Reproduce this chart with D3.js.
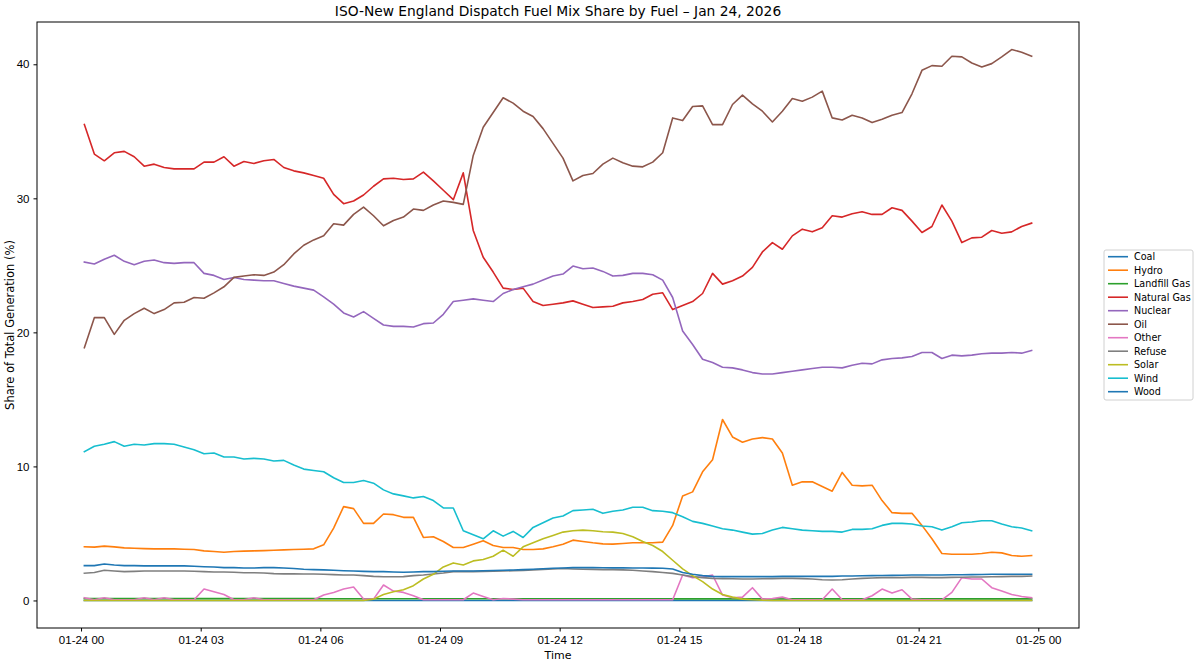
<!DOCTYPE html>
<html>
<head>
<meta charset="utf-8">
<script src="https://cdn.jsdelivr.net/npm/d3@7"></script>
<style>
  body { margin: 0; background: #fff; }
  svg { font-family: "DejaVu Sans", sans-serif; }
</style>
</head>
<body>
<svg id="fuelmix" width="1200" height="663"></svg>
<script>
// Fuel names, in plotting / legend order
const fuels = ["Coal", "Hydro", "Landfill Gas", "Natural Gas", "Nuclear", "Oil",
               "Other", "Refuse", "Solar", "Wind", "Wood"];

// samples every 15 minutes, first one at 00:05 on Jan 24
const startTime = Date.UTC(2026, 0, 24, 0, 5);
const stepMinutes = 15;

// share of total generation (%)
const coal = [
  0, 0, 0, 0, 0, 0, 0, 0, 0, 0, 0, 0,
  0, 0, 0, 0, 0, 0, 0, 0, 0, 0, 0, 0,
  0, 0, 0, 0, 0, 0, 0, 0, 0, 0, 0, 0,
  0, 0, 0, 0, 0, 0, 0, 0, 0, 0, 0, 0,
  0, 0, 0, 0, 0, 0, 0, 0, 0, 0, 0, 0,
  0, 0, 0, 0, 0, 0, 0, 0, 0, 0, 0, 0,
  0, 0, 0, 0, 0, 0, 0, 0, 0, 0, 0, 0,
  0, 0, 0, 0, 0, 0, 0, 0, 0, 0, 0, 0
];
const hydro = [
  4.0, 3.98, 4.05, 4.0, 3.92, 3.9, 3.87, 3.85, 3.85, 3.85, 3.82, 3.8,
  3.7, 3.65, 3.6, 3.65, 3.68, 3.7, 3.72, 3.75, 3.77, 3.8, 3.82, 3.85,
  4.15, 5.4, 7.0, 6.85, 5.75, 5.75, 6.45, 6.4, 6.2, 6.2, 4.7, 4.75,
  4.4, 3.95, 3.95, 4.2, 4.45, 4.1, 3.95, 3.95, 3.8, 3.8, 3.85, 4.0,
  4.2, 4.5, 4.4, 4.3, 4.22, 4.2, 4.25, 4.3, 4.3, 4.3, 4.35, 5.6,
  7.8, 8.1, 9.6, 10.5, 13.5, 12.2, 11.8, 12.05, 12.15, 12.05, 11.0, 8.6,
  8.85, 8.85, 8.5, 8.15, 9.55, 8.6, 8.55, 8.6, 7.45, 6.55, 6.5, 6.5,
  5.6, 4.6, 3.5, 3.45, 3.45, 3.45, 3.5, 3.6, 3.55, 3.35, 3.3, 3.35
];
const landfillGas = [
  0.14, 0.14, 0.14, 0.14, 0.14, 0.14, 0.14, 0.14, 0.14, 0.14, 0.14, 0.14,
  0.14, 0.14, 0.14, 0.14, 0.14, 0.14, 0.14, 0.14, 0.14, 0.14, 0.14, 0.14,
  0.13, 0.13, 0.13, 0.13, 0.13, 0.13, 0.13, 0.13, 0.13, 0.13, 0.13, 0.13,
  0.13, 0.13, 0.13, 0.13, 0.13, 0.13, 0.13, 0.13, 0.13, 0.13, 0.13, 0.13,
  0.12, 0.12, 0.12, 0.12, 0.12, 0.12, 0.12, 0.12, 0.12, 0.12, 0.12, 0.12,
  0.12, 0.12, 0.12, 0.12, 0.12, 0.12, 0.12, 0.12, 0.12, 0.12, 0.12, 0.12,
  0.12, 0.12, 0.12, 0.12, 0.12, 0.12, 0.12, 0.12, 0.12, 0.12, 0.12, 0.12,
  0.12, 0.12, 0.12, 0.12, 0.12, 0.12, 0.12, 0.12, 0.12, 0.12, 0.12, 0.12
];
const naturalGas = [
  35.5, 33.3, 32.8, 33.4, 33.5, 33.1, 32.4, 32.55, 32.3, 32.2, 32.2, 32.2,
  32.7, 32.7, 33.1, 32.4, 32.75, 32.6, 32.8, 32.9, 32.3, 32.05, 31.9, 31.7,
  31.5, 30.3, 29.6, 29.8, 30.25, 30.9, 31.45, 31.5, 31.4, 31.45, 31.95, 31.3,
  30.6, 29.9, 31.9, 27.6, 25.6, 24.5, 23.3, 23.2, 23.3, 22.3, 22.0, 22.1,
  22.2, 22.35, 22.1, 21.85, 21.9, 21.95, 22.2, 22.3, 22.45, 22.85, 22.95, 21.7,
  22.0, 22.3, 22.9, 24.4, 23.6, 23.85, 24.2, 24.85, 26.0, 26.7, 26.2, 27.2,
  27.7, 27.5, 27.8, 28.7, 28.6, 28.85, 29.0, 28.8, 28.8, 29.3, 29.1, 28.3,
  27.45, 27.9, 29.5, 28.3, 26.7, 27.05, 27.1, 27.6, 27.4, 27.5, 27.9, 28.15
];
const nuclear = [
  25.25, 25.1, 25.45, 25.75, 25.3, 25.05, 25.3, 25.4, 25.2, 25.15, 25.2, 25.2,
  24.4, 24.25, 23.95, 24.1, 23.95, 23.9, 23.85, 23.85, 23.65, 23.45, 23.3, 23.15,
  22.65, 22.1, 21.45, 21.15, 21.55, 21.05, 20.55, 20.45, 20.45, 20.4, 20.65, 20.7,
  21.35, 22.3, 22.4, 22.5, 22.4, 22.3, 22.9, 23.2, 23.4, 23.6, 23.9, 24.2,
  24.35, 24.95, 24.75, 24.8, 24.55, 24.2, 24.25, 24.4, 24.4, 24.3, 23.9, 22.6,
  20.1, 19.1, 18.0, 17.75, 17.4, 17.35, 17.2, 17.0, 16.9, 16.9, 17.0, 17.1,
  17.2, 17.3, 17.4, 17.4, 17.35, 17.55, 17.7, 17.65, 17.95, 18.05, 18.1, 18.2,
  18.5, 18.5, 18.05, 18.3, 18.25, 18.3, 18.4, 18.45, 18.45, 18.5, 18.45, 18.65
];
const oil = [
  18.85, 21.1, 21.1, 19.85, 20.9, 21.4, 21.8, 21.4, 21.7, 22.2, 22.25, 22.6,
  22.55, 22.95, 23.4, 24.1, 24.2, 24.3, 24.25, 24.5, 25.05, 25.85, 26.5, 26.9,
  27.2, 28.1, 28.0, 28.8, 29.35, 28.7, 27.95, 28.35, 28.6, 29.2, 29.1, 29.5,
  29.8, 29.7, 29.55, 33.2, 35.3, 36.4, 37.5, 37.1, 36.5, 36.1, 35.2, 34.1,
  33.0, 31.3, 31.7, 31.85, 32.55, 33.0, 32.65, 32.4, 32.35, 32.7, 33.4, 36.0,
  35.8, 36.85, 36.9, 35.5, 35.5, 37.0, 37.7, 37.05, 36.5, 35.7, 36.5, 37.45,
  37.25, 37.55, 38.0, 36.0, 35.85, 36.2, 36.0, 35.65, 35.9, 36.2, 36.4, 37.8,
  39.55, 39.9, 39.85, 40.6, 40.55, 40.1, 39.8, 40.05, 40.55, 41.1, 40.9, 40.6
];
const other = [
  0.2, 0.05, 0.2, 0.05, 0.05, 0.05, 0.2, 0.05, 0.2, 0.05, 0.05, 0.05,
  0.85, 0.65, 0.45, 0.05, 0.05, 0.2, 0.05, 0.05, 0.05, 0.05, 0.05, 0.05,
  0.4, 0.6, 0.85, 1.0, 0.1, 0.1, 1.15, 0.7, 0.6, 0.35, 0.05, 0.05,
  0.05, 0.05, 0.05, 0.55, 0.3, 0.05, 0.15, 0.1, 0.05, 0.05, 0.05, 0.05,
  0.05, 0.05, 0.05, 0.05, 0.05, 0.05, 0.05, 0.05, 0.05, 0.05, 0.05, 0.05,
  1.9, 1.7, 1.75, 1.9, 0.4, 0.2, 0.25, 0.95, 0.1, 0.15, 0.25, 0.05,
  0.05, 0.05, 0.05, 0.85, 0.05, 0.05, 0.05, 0.35, 0.85, 0.55, 0.8, 0.1,
  0.05, 0.05, 0.05, 0.6, 1.7, 1.6, 1.6, 0.95, 0.7, 0.45, 0.3, 0.2
];
const refuse = [
  2.03, 2.08, 2.25, 2.2, 2.15, 2.17, 2.2, 2.2, 2.2, 2.2, 2.2, 2.18,
  2.15, 2.12, 2.12, 2.1, 2.07, 2.07, 2.05, 2.0, 1.98, 1.98, 1.97, 1.97,
  1.96, 1.93, 1.9, 1.9, 1.85, 1.8, 1.77, 1.77, 1.78, 1.85, 1.9, 1.97,
  2.05, 2.15, 2.15, 2.15, 2.17, 2.18, 2.2, 2.22, 2.24, 2.28, 2.32, 2.35,
  2.38, 2.35, 2.33, 2.32, 2.3, 2.3, 2.28, 2.25, 2.2, 2.15, 2.08, 2.02,
  1.9, 1.78, 1.7, 1.65, 1.63, 1.62, 1.6, 1.6, 1.62, 1.63, 1.65, 1.65,
  1.63, 1.6, 1.55, 1.53, 1.55, 1.6, 1.65, 1.68, 1.7, 1.7, 1.7, 1.72,
  1.72, 1.7, 1.7, 1.72, 1.73, 1.75, 1.75, 1.77, 1.78, 1.8, 1.8, 1.82
];
const solar = [
  0, 0, 0, 0, 0, 0, 0, 0, 0, 0, 0, 0,
  0, 0, 0, 0, 0, 0, 0, 0, 0, 0, 0, 0,
  0, 0, 0, 0, 0, 0.1, 0.45, 0.65, 0.8, 1.1, 1.6, 1.95,
  2.5, 2.8, 2.65, 2.95, 3.05, 3.3, 3.75, 3.3, 4.0, 4.3, 4.6, 4.85,
  5.1, 5.2, 5.25, 5.2, 5.12, 5.1, 5.0, 4.75, 4.4, 4.1, 3.65, 3.0,
  2.35, 1.85, 1.4, 0.85, 0.45, 0.25, 0.1, 0.05, 0.02, 0, 0, 0,
  0, 0, 0, 0, 0, 0, 0, 0, 0, 0, 0, 0,
  0, 0, 0, 0, 0, 0, 0, 0, 0, 0, 0, 0
];
const wind = [
  11.1, 11.5, 11.65, 11.85, 11.5, 11.65, 11.6, 11.7, 11.7, 11.65, 11.45, 11.25,
  10.95, 11.0, 10.7, 10.7, 10.55, 10.6, 10.55, 10.4, 10.45, 10.1, 9.8, 9.7,
  9.6, 9.15, 8.8, 8.8, 8.95, 8.75, 8.25, 7.95, 7.8, 7.65, 7.75, 7.45,
  6.9, 6.9, 5.2, 4.9, 4.6, 5.2, 4.8, 5.15, 4.7, 5.45, 5.8, 6.15,
  6.3, 6.7, 6.75, 6.8, 6.5, 6.65, 6.75, 6.95, 6.95, 6.7, 6.65, 6.55,
  6.25, 5.9, 5.75, 5.55, 5.35, 5.25, 5.1, 4.95, 5.0, 5.25, 5.45, 5.35,
  5.25, 5.2, 5.15, 5.15, 5.1, 5.3, 5.3, 5.35, 5.6, 5.75, 5.75, 5.7,
  5.55, 5.5, 5.25, 5.5, 5.8, 5.85, 5.95, 5.95, 5.7, 5.5, 5.4, 5.2
];
const wood = [
  2.6, 2.6, 2.72, 2.65, 2.6, 2.6, 2.58, 2.58, 2.58, 2.58, 2.58, 2.55,
  2.52, 2.5, 2.45, 2.45, 2.42, 2.42, 2.45, 2.45, 2.42, 2.38, 2.33, 2.3,
  2.28, 2.25, 2.22, 2.2, 2.17, 2.15, 2.15, 2.12, 2.1, 2.12, 2.15, 2.15,
  2.18, 2.2, 2.2, 2.2, 2.22, 2.23, 2.25, 2.27, 2.3, 2.33, 2.37, 2.4,
  2.42, 2.45, 2.45, 2.45, 2.44, 2.43, 2.43, 2.42, 2.42, 2.41, 2.4, 2.35,
  2.08, 1.95, 1.85, 1.8, 1.78, 1.78, 1.78, 1.78, 1.78, 1.78, 1.8, 1.8,
  1.8, 1.8, 1.8, 1.8, 1.82, 1.82, 1.84, 1.85, 1.86, 1.87, 1.88, 1.9,
  1.9, 1.9, 1.9, 1.92, 1.92, 1.93, 1.94, 1.95, 1.95, 1.95, 1.95, 1.95
];

const seriesValues = [coal, hydro, landfillGas, naturalGas, nuclear, oil,
                      other, refuse, solar, wind, wood];

// matplotlib tab10 cycle (Wood wraps around to blue again)
const colors = ["#1f77b4", "#ff7f0e", "#2ca02c", "#d62728", "#9467bd", "#8c564b",
                "#e377c2", "#7f7f7f", "#bcbd22", "#17becf", "#1f77b4"];

const yTicks = [0, 10, 20, 30, 40];

const svg = d3.select("#fuelmix");
const width = 1200, height = 663;
const margin = { top: 22, right: 121, bottom: 35, left: 37 };
const innerW = width - margin.left - margin.right;
const innerH = height - margin.top - margin.bottom;

const times = coal.map((d, i) => new Date(startTime + i * stepMinutes * 60000));

const series = fuels.map((name, k) => ({
  name: name,
  color: colors[k],
  values: seriesValues[k].map((v, i) => ({ t: times[i], v: v }))
}));

// 5% padding on both axes, like the default matplotlib margins
const tExt = d3.extent(times);
const tPad = (tExt[1] - tExt[0]) * 0.05;
const x = d3.scaleUtc()
  .domain([new Date(+tExt[0] - tPad), new Date(+tExt[1] + tPad)])
  .range([0, innerW]);

const vMax = d3.max(seriesValues, s => d3.max(s));
const vMin = d3.min(seriesValues, s => d3.min(s));
const vPad = (vMax - vMin) * 0.05;
const y = d3.scaleLinear()
  .domain([vMin - vPad, vMax + vPad])
  .range([innerH, 0]);

const g = svg.append("g")
  .attr("transform", `translate(${margin.left},${margin.top})`);

// Axes
const xAxis = g.append("g")
  .attr("transform", `translate(0,${innerH})`)
  .call(d3.axisBottom(x)
    .ticks(d3.utcHour.every(3))
    .tickFormat(d3.utcFormat("%m-%d %H"))
    .tickSizeInner(3.5).tickSizeOuter(0).tickPadding(4.5));

const yAxis = g.append("g")
  .call(d3.axisLeft(y)
    .tickValues(yTicks)
    .tickSizeInner(3.5).tickSizeOuter(0).tickPadding(4));

[xAxis, yAxis].forEach(a => {
  a.select(".domain").remove();
  a.selectAll("text").style("font-size", "11.5px").attr("fill", "#000");
  a.selectAll("line").attr("stroke", "#000");
});

// Lines
const line = d3.line()
  .x(d => x(d.t))
  .y(d => y(d.v));

g.selectAll("path.line")
  .data(series)
  .enter()
  .append("path")
  .attr("class", "line")
  .attr("fill", "none")
  .attr("stroke", d => d.color)
  .attr("stroke-width", 1.6)
  .attr("stroke-linejoin", "round")
  .attr("stroke-linecap", "square")
  .attr("d", d => line(d.values));

// frame
g.append("rect")
  .attr("width", innerW)
  .attr("height", innerH)
  .attr("fill", "none")
  .attr("stroke", "#000")
  .attr("stroke-width", 1);

// Titles
svg.append("text")
  .attr("x", margin.left + innerW / 2)
  .attr("y", 16)
  .attr("text-anchor", "middle")
  .style("font-size", "13.8px")
  .text("ISO-New England Dispatch Fuel Mix Share by Fuel \u2013 Jan 24, 2026");

svg.append("text")
  .attr("x", margin.left + innerW / 2)
  .attr("y", 658.5)
  .attr("text-anchor", "middle")
  .style("font-size", "11px")
  .text("Time");

svg.append("text")
  .attr("transform", `translate(14,${margin.top + innerH / 2}) rotate(-90)`)
  .attr("text-anchor", "middle")
  .style("font-size", "11.5px")
  .text("Share of Total Generation (%)");

// Legend
const legend = svg.append("g")
  .attr("transform", "translate(1104,250)");

legend.append("rect")
  .attr("width", 89)
  .attr("height", 150)
  .attr("rx", 2)
  .attr("fill", "#fff")
  .attr("stroke", "#d0d0d0");

const items = legend.selectAll("g.item")
  .data(series)
  .enter()
  .append("g")
  .attr("class", "item")
  .attr("transform", (d, i) => `translate(0,${6.7 + i * 13.5})`);

items.append("line")
  .attr("x1", 4).attr("x2", 24)
  .attr("stroke", d => d.color)
  .attr("stroke-width", 1.6);

items.append("text")
  .attr("x", 30)
  .attr("dy", "0.35em")
  .style("font-size", "9.6px")
  .text(d => d.name);
</script>
</body>
</html>
